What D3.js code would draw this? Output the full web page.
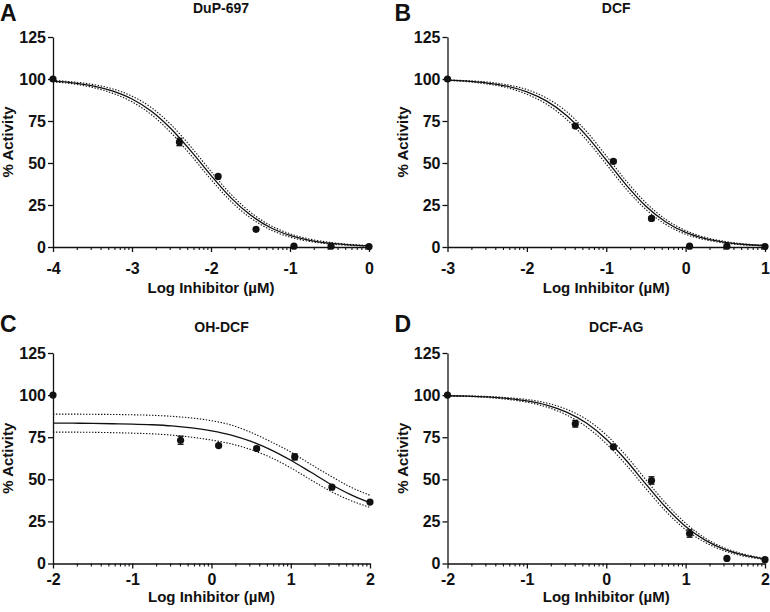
<html lang="en">
<head>
    <meta charset="UTF-8">
    <title>Inhibition curves</title>
    <script src="https://cdn.jsdelivr.net/npm/d3@7/dist/d3.min.js" type="text/javascript"></script>
    <style>
        body { margin: 0; background: #fff; }
        text { font-family: "Liberation Sans", Arial, sans-serif; font-weight: bold; fill: #111; }
        .domain, .tick line { stroke: #111; }
    </style>
</head>
<body>
    <svg id="svg"></svg>

    <script>

        var WIDTH = 770;
        var HEIGHT = 612;

        // Panel text
        var panelLetters = ["A", "B", "C", "D"];
        var panelTitles = ["DuP-697", "DCF", "OH-DCF", "DCF-AG"];
        var xAxisTitle = "Log Inhibitor (\u00b5M)";
        var yAxisTitle = "% Activity";

        // Axes
        var xDomains = [[-4, 0], [-3, 1], [-2, 2], [-2, 2]];
        var xTicks = [[-4, -3, -2, -1, 0], [-3, -2, -1, 0, 1], [-2, -1, 0, 1, 2], [-2, -1, 0, 1, 2]];
        var xTickLabels = [["-4", "-3", "-2", "-1", "0"], ["-3", "-2", "-1", "0", "1"],
                           ["-2", "-1", "0", "1", "2"], ["-2", "-1", "0", "1", "2"]];
        var yTicks = [0, 25, 50, 75, 100, 125];
        var yTickLabels = ["0", "25", "50", "75", "100", "125"];

        // Measured points (log conc, % activity, error)
        var logConcA = [-4, -2.40, -1.91, -1.43, -0.95, -0.48, 0];
        var activityA = [100, 62.5, 42, 10.5, 0.5, 0.5, 0.3];
        var errA = [0, 2.2, 0.8, 0.8, 0.3, 0.3, 0.3];

        var logConcB = [-3, -1.39, -0.91, -0.43, 0.05, 0.52, 1];
        var activityB = [100, 72, 51, 17, 0.5, 0.5, 0.3];
        var errB = [0, 1, 1, 1, 0, 0, 0];

        var logConcC = [-2, -0.39, 0.09, 0.57, 1.05, 1.52, 2];
        var activityC = [100, 73.2, 70, 68.3, 63.3, 45.3, 36.5];
        var errC = [0, 2.4, 0.8, 1, 1.8, 1, 0.8];

        var logConcD = [-2, -0.39, 0.09, 0.57, 1.05, 1.52, 2];
        var activityD = [100, 83, 69.3, 49.3, 17.8, 3, 2.3];
        var errD = [0, 2, 1, 2.2, 2.2, 0.5, 0.5];

        // Fitted curves and 95% bands
        var curveXA = [-4, -3.75, -3.5, -3.25, -3, -2.75, -2.5, -2.25, -2, -1.75, -1.5, -1.25, -1, -0.75, -0.5, -0.25, 0];
        var fitA   = [98.7, 97.7, 95.9, 92.9, 88.1, 80.7, 70.1, 56.9, 42.6, 29.4, 19.0, 11.6, 6.9, 4.0, 2.3, 1.3, 0.7];
        var fitHiA = [99.1, 98.3, 96.8, 94.2, 89.8, 82.8, 72.5, 59.4, 45.0, 31.5, 20.7, 12.9, 7.9, 4.7, 2.8, 1.6, 0.9];
        var fitLoA = [98.3, 97.1, 95.0, 91.6, 86.4, 78.6, 67.7, 54.4, 40.2, 27.3, 17.3, 10.3, 5.9, 3.3, 1.8, 1.0, 0.5];

        var curveXB = [-3, -2.75, -2.5, -2.25, -2, -1.75, -1.5, -1.25, -1, -0.75, -0.5, -0.25, 0, 0.25, 0.5, 0.75, 1];
        var fitB   = [99.3, 98.7, 97.6, 95.7, 92.3, 86.8, 78.3, 66.3, 51.8, 37.0, 24.3, 14.9, 8.7, 5.0, 2.8, 1.5, 0.85];
        var fitHiB = [99.5, 99.0, 98.2, 96.6, 93.7, 88.6, 80.6, 68.8, 54.3, 39.4, 26.3, 16.4, 9.8, 5.7, 3.3, 1.8, 1.0];
        var fitLoB = [99.1, 98.4, 97.0, 94.8, 90.9, 85.0, 76.0, 63.8, 49.3, 34.6, 22.3, 13.4, 7.6, 4.3, 2.3, 1.2, 0.7];

        var curveXC = [-2, -1.75, -1.5, -1.25, -1, -0.75, -0.5, -0.25, 0, 0.25, 0.5, 0.75, 1, 1.25, 1.5, 1.75, 2];
        var fitC   = [83.4, 83.3, 83.2, 83.0, 82.8, 82.4, 81.7, 80.5, 78.8, 76.3, 72.5, 67.5, 61.3, 54.3, 47.2, 41.0, 36.0];
        var fitHiC = [88.7, 88.7, 88.6, 88.5, 88.3, 88.0, 87.4, 86.4, 84.8, 82.2, 77.8, 72.3, 66.2, 59.0, 52.0, 45.5, 40.5];
        var fitLoC = [78.0, 78.0, 77.9, 77.7, 77.4, 77.0, 76.2, 75.0, 73.3, 71.0, 67.6, 62.9, 56.8, 49.8, 43.0, 37.5, 33.3];

        var curveXD = [-2, -1.75, -1.5, -1.25, -1, -0.75, -0.5, -0.25, 0, 0.25, 0.5, 0.75, 1, 1.25, 1.5, 1.75, 2];
        var fitD   = [99.6, 99.4, 98.9, 98.0, 96.6, 94.1, 89.9, 83.4, 73.8, 61.3, 47.1, 33.4, 22.0, 13.7, 8.2, 4.8, 2.7];
        var fitHiD = [99.7, 99.6, 99.2, 98.5, 97.4, 95.3, 91.6, 85.6, 76.4, 64.0, 49.7, 35.8, 23.9, 15.0, 9.1, 5.4, 3.1];
        var fitLoD = [99.5, 99.2, 98.6, 97.5, 95.8, 92.9, 88.2, 81.2, 71.2, 58.6, 44.5, 31.0, 20.1, 12.4, 7.3, 4.2, 2.3];

        // Panel placement (pixel frame of each plot)
        var layout = [
            {left: 53, right: 369, top: 37, bottom: 247, row: 0},
            {left: 447.5, right: 765, top: 37, bottom: 247, row: 0},
            {left: 53, right: 370, top: 353, bottom: 563.5, row: 1},
            {left: 447.5, right: 765, top: 353, bottom: 563.5, row: 1}
        ];
        var letterY = [21, 332];
        var titleY = [13, 332];
        var xTitleY = [293, 602];
        var xTickPad = [10.5, 5];

        var panels = [
            {x: logConcA, y: activityA, err: errA, cx: curveXA, fit: fitA, hi: fitHiA, lo: fitLoA},
            {x: logConcB, y: activityB, err: errB, cx: curveXB, fit: fitB, hi: fitHiB, lo: fitLoB},
            {x: logConcC, y: activityC, err: errC, cx: curveXC, fit: fitC, hi: fitHiC, lo: fitLoC},
            {x: logConcD, y: activityD, err: errD, cx: curveXD, fit: fitD, hi: fitHiD, lo: fitLoD}
        ];

        var svg = d3.select('#svg')
                    .attr("width", WIDTH)
                    .attr("height", HEIGHT);

        var drawPanel = function(i){
            var L = layout[i];
            var P = panels[i];
            var g = svg.append("g");

            var xScale = d3.scaleLinear()
                            .domain(xDomains[i])
                            .range([L.left, L.right]);

            var yScale = d3.scaleLinear()
                            .domain([0, 125])
                            .range([L.bottom, L.top]);

            // minor log ticks inside each decade
            var minor = [];
            for(var d = xDomains[i][0]; d < xDomains[i][1]; d++){
                for(var k = 2; k <= 9; k++){
                    minor.push(d + Math.log10(k));
                }
            }

            g.append("g")
                .attr("class", "minor")
                .attr("transform", "translate(0," + L.bottom + ")")
                .call(d3.axisBottom(xScale).tickValues(minor).tickSize(3).tickSizeOuter(0).tickFormat(""))
                .call(function(s){ s.select(".domain").remove(); })
                .selectAll("line").attr("stroke-width", 1.1);

            var xa = g.append("g")
                .attr("transform", "translate(0," + L.bottom + ")")
                .call(d3.axisBottom(xScale)
                        .tickValues(xTicks[i])
                        .tickSize(5)
                        .tickSizeOuter(0)
                        .tickPadding(xTickPad[L.row])
                        .tickFormat(function(d, j){ return xTickLabels[i][j]; }));
            xa.selectAll("text").attr("font-size", "16px");
            xa.selectAll("line").attr("stroke-width", 1.3);
            xa.select(".domain").attr("stroke-width", 1.3);

            var ya = g.append("g")
                .attr("transform", "translate(" + L.left + ",0)")
                .call(d3.axisLeft(yScale)
                        .tickValues(yTicks)
                        .tickSize(5)
                        .tickSizeOuter(0)
                        .tickPadding(2)
                        .tickFormat(function(d, j){ return yTickLabels[j]; }));
            ya.selectAll("text").attr("font-size", "16px");
            ya.selectAll("line").attr("stroke-width", 1.3);
            ya.select(".domain").attr("stroke-width", 1.3);

            // curves
            var line = function(vals){
                return d3.line()
                    .x(function(v, j){ return xScale(P.cx[j]); })
                    .y(function(v){ return yScale(v); })
                    .curve(d3.curveMonotoneX)(vals);
            };

            g.selectAll("path.band")
                .data([P.hi, P.lo])
                .enter()
                .append("path")
                .attr("class", "band")
                .attr("d", line)
                .attr("fill", "none")
                .attr("stroke", "#111")
                .attr("stroke-width", 1.1)
                .attr("stroke-dasharray", "1.4,1.6");

            g.append("path")
                .attr("d", line(P.fit))
                .attr("fill", "none")
                .attr("stroke", "#111")
                .attr("stroke-width", 1.3);

            // error bars
            var pts = P.x.map(function(v, j){ return {x: v, y: P.y[j], e: P.err[j]}; });
            var eb = g.selectAll("g.err")
                .data(pts.filter(function(d){ return d.e > 0.5; }))
                .enter()
                .append("g")
                .attr("class", "err")
                .attr("stroke", "#111")
                .attr("stroke-width", 1.3);
            eb.append("line")
                .attr("x1", function(d){ return xScale(d.x); })
                .attr("x2", function(d){ return xScale(d.x); })
                .attr("y1", function(d){ return yScale(d.y - d.e); })
                .attr("y2", function(d){ return yScale(d.y + d.e); });
            [-1, 1].forEach(function(s){
                eb.append("line")
                    .attr("x1", function(d){ return xScale(d.x) - 3; })
                    .attr("x2", function(d){ return xScale(d.x) + 3; })
                    .attr("y1", function(d){ return yScale(d.y + s * d.e); })
                    .attr("y2", function(d){ return yScale(d.y + s * d.e); });
            });

            g.selectAll("circle")
                .data(pts)
                .enter()
                .append("circle")
                .attr("cx", function(d){ return xScale(d.x); })
                .attr("cy", function(d){ return yScale(d.y); })
                .attr("r", 3.6)
                .attr("fill", "#111");

            // texts
            var midX = (L.left + L.right) / 2;

            g.append("text")
                .text(panelLetters[i])
                .attr("x", L.left - 53)
                .attr("y", letterY[L.row])
                .attr("font-size", "23px");

            g.append("text")
                .text(panelTitles[i])
                .attr("x", midX + 10)
                .attr("y", titleY[L.row])
                .attr("text-anchor", "middle")
                .attr("font-size", "14px");

            g.append("text")
                .text(xAxisTitle)
                .attr("x", midX)
                .attr("y", xTitleY[L.row])
                .attr("text-anchor", "middle")
                .attr("font-size", "15px");

            g.append("text")
                .text(yAxisTitle)
                .attr("transform", "translate(" + (L.left - 40) + "," + ((L.top + L.bottom) / 2) + ") rotate(-90)")
                .attr("text-anchor", "middle")
                .attr("font-size", "15px");
        };

        for(var i = 0; i < 4; i++){
            drawPanel(i);
        }

    </script>

</body>
</html>
